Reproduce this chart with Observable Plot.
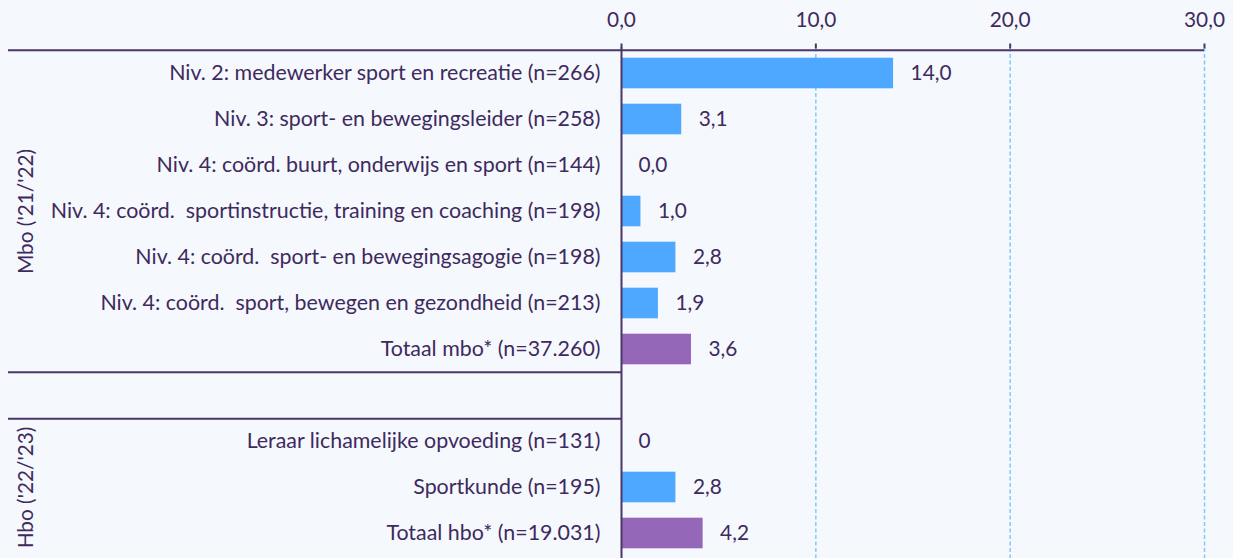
<!DOCTYPE html>
<html>
<head>
<meta charset="utf-8">
<script src="https://cdn.jsdelivr.net/npm/d3@7"></script>
<script src="https://cdn.jsdelivr.net/npm/@observablehq/plot@0.6"></script>
<style>
  html, body { margin: 0; padding: 0; background: #f5f8fd; overflow: hidden; }
  svg text { white-space: pre; }
</style>
</head>
<body>
<div id="chart"></div>
<script>
// ---- data ----
const mboCategories = [
  "Niv. 2: medewerker sport en recreatie (n=266)",
  "Niv. 3: sport- en bewegingsleider (n=258)",
  "Niv. 4: coörd. buurt, onderwijs en sport (n=144)",
  "Niv. 4: coörd.  sportinstructie, training en coaching (n=198)",
  "Niv. 4: coörd.  sport- en bewegingsagogie (n=198)",
  "Niv. 4: coörd.  sport, bewegen en gezondheid (n=213)",
  "Totaal mbo* (n=37.260)"
];
const mboValues = [14.0, 3.1, 0.0, 1.0, 2.8, 1.9, 3.6];
const mboValueLabels = ["14,0", "3,1", "0,0", "1,0", "2,8", "1,9", "3,6"];
const mboKinds = ["opleiding", "opleiding", "opleiding", "opleiding", "opleiding", "opleiding", "totaal"];

const hboCategories = [
  "Leraar lichamelijke opvoeding (n=131)",
  "Sportkunde (n=195)",
  "Totaal hbo* (n=19.031)"
];
const hboValues = [0, 2.8, 4.2];
const hboValueLabels = ["0", "2,8", "4,2"];
const hboKinds = ["opleiding", "opleiding", "totaal"];

const groupNames = ["Mbo ('21/'22)", "Hbo ('22/'23)"];
const tickValues = [0, 10, 20, 30];
const tickLabels = ["0,0", "10,0", "20,0", "30,0"];

// ---- build ----
const spacer = " ";
const rows = [
  ...mboCategories.map((c, i) => ({label: c, value: mboValues[i], text: mboValueLabels[i], kind: mboKinds[i]})),
  ...hboCategories.map((c, i) => ({label: c, value: hboValues[i], text: hboValueLabels[i], kind: hboKinds[i]}))
];
const yDomain = [...mboCategories, spacer, ...hboCategories];
const groupLabels = [
  {label: mboCategories[Math.floor(mboCategories.length / 2)], name: groupNames[0]},
  {label: hboCategories[Math.floor(hboCategories.length / 2)], name: groupNames[1]}
];

const W = 1233, H = 559, mTop = 47.5, mBottom = 0, mLeft = 621, mRight = 29;
const step = (H - mTop - mBottom) / yDomain.length;
const textColor = "#3e2a5d";
const lineColor = "#4a3669";
const leftExt = -(mLeft - 8);
const fs = 20.8;

const chart = Plot.plot({
  width: W,
  height: H,
  marginTop: mTop,
  marginBottom: mBottom,
  marginLeft: mLeft,
  marginRight: mRight,
  style: {background: "transparent", fontFamily: "Lato, sans-serif", color: textColor},
  x: {domain: [0, 30], label: null},
  y: {domain: yDomain, padding: 0, label: null},
  color: {domain: ["opleiding", "totaal"], range: ["#4fa8ff", "#9467b8"]},
  marks: [
    Plot.ruleX(tickValues.slice(1), {stroke: "#7fcaf7", strokeWidth: 1.5, strokeDasharray: "4,2.5"}),
    Plot.barX(rows, {x: "value", y: "label", fill: "kind", insetTop: 7.7, insetBottom: 7.7}),
    Plot.ruleX([0], {stroke: lineColor, strokeWidth: 2}),
    Plot.ruleY([yDomain[0]], {dy: -step / 2, stroke: lineColor, strokeWidth: 2, insetLeft: leftExt}),
    Plot.ruleY([spacer], {x1: 0, x2: 0, dy: -step / 2, stroke: lineColor, strokeWidth: 2, insetLeft: leftExt}),
    Plot.ruleY([spacer], {x1: 0, x2: 0, dy: step / 2, stroke: lineColor, strokeWidth: 2, insetLeft: leftExt}),
    Plot.text(rows, {x: "value", y: "label", text: "text", textAnchor: "start", dx: 17, fontSize: fs, fill: textColor}),
    Plot.text(groupLabels, {y: "label", text: "name", frameAnchor: "left", textAnchor: "middle", dx: -(mLeft - 26), rotate: -90, fontSize: fs, fill: textColor}),
    Plot.axisX({anchor: "top", ticks: tickValues, tickFormat: (d) => tickLabels[tickValues.indexOf(d)], tickSize: 5, tickPadding: 16, fontSize: fs, stroke: lineColor, strokeWidth: 2, color: textColor}),
    Plot.axisY({anchor: "left", tickSize: 0, tickPadding: 21, fontSize: 21.4, color: textColor})
  ]
});
document.getElementById("chart").appendChild(chart);
</script>
</body>
</html>
